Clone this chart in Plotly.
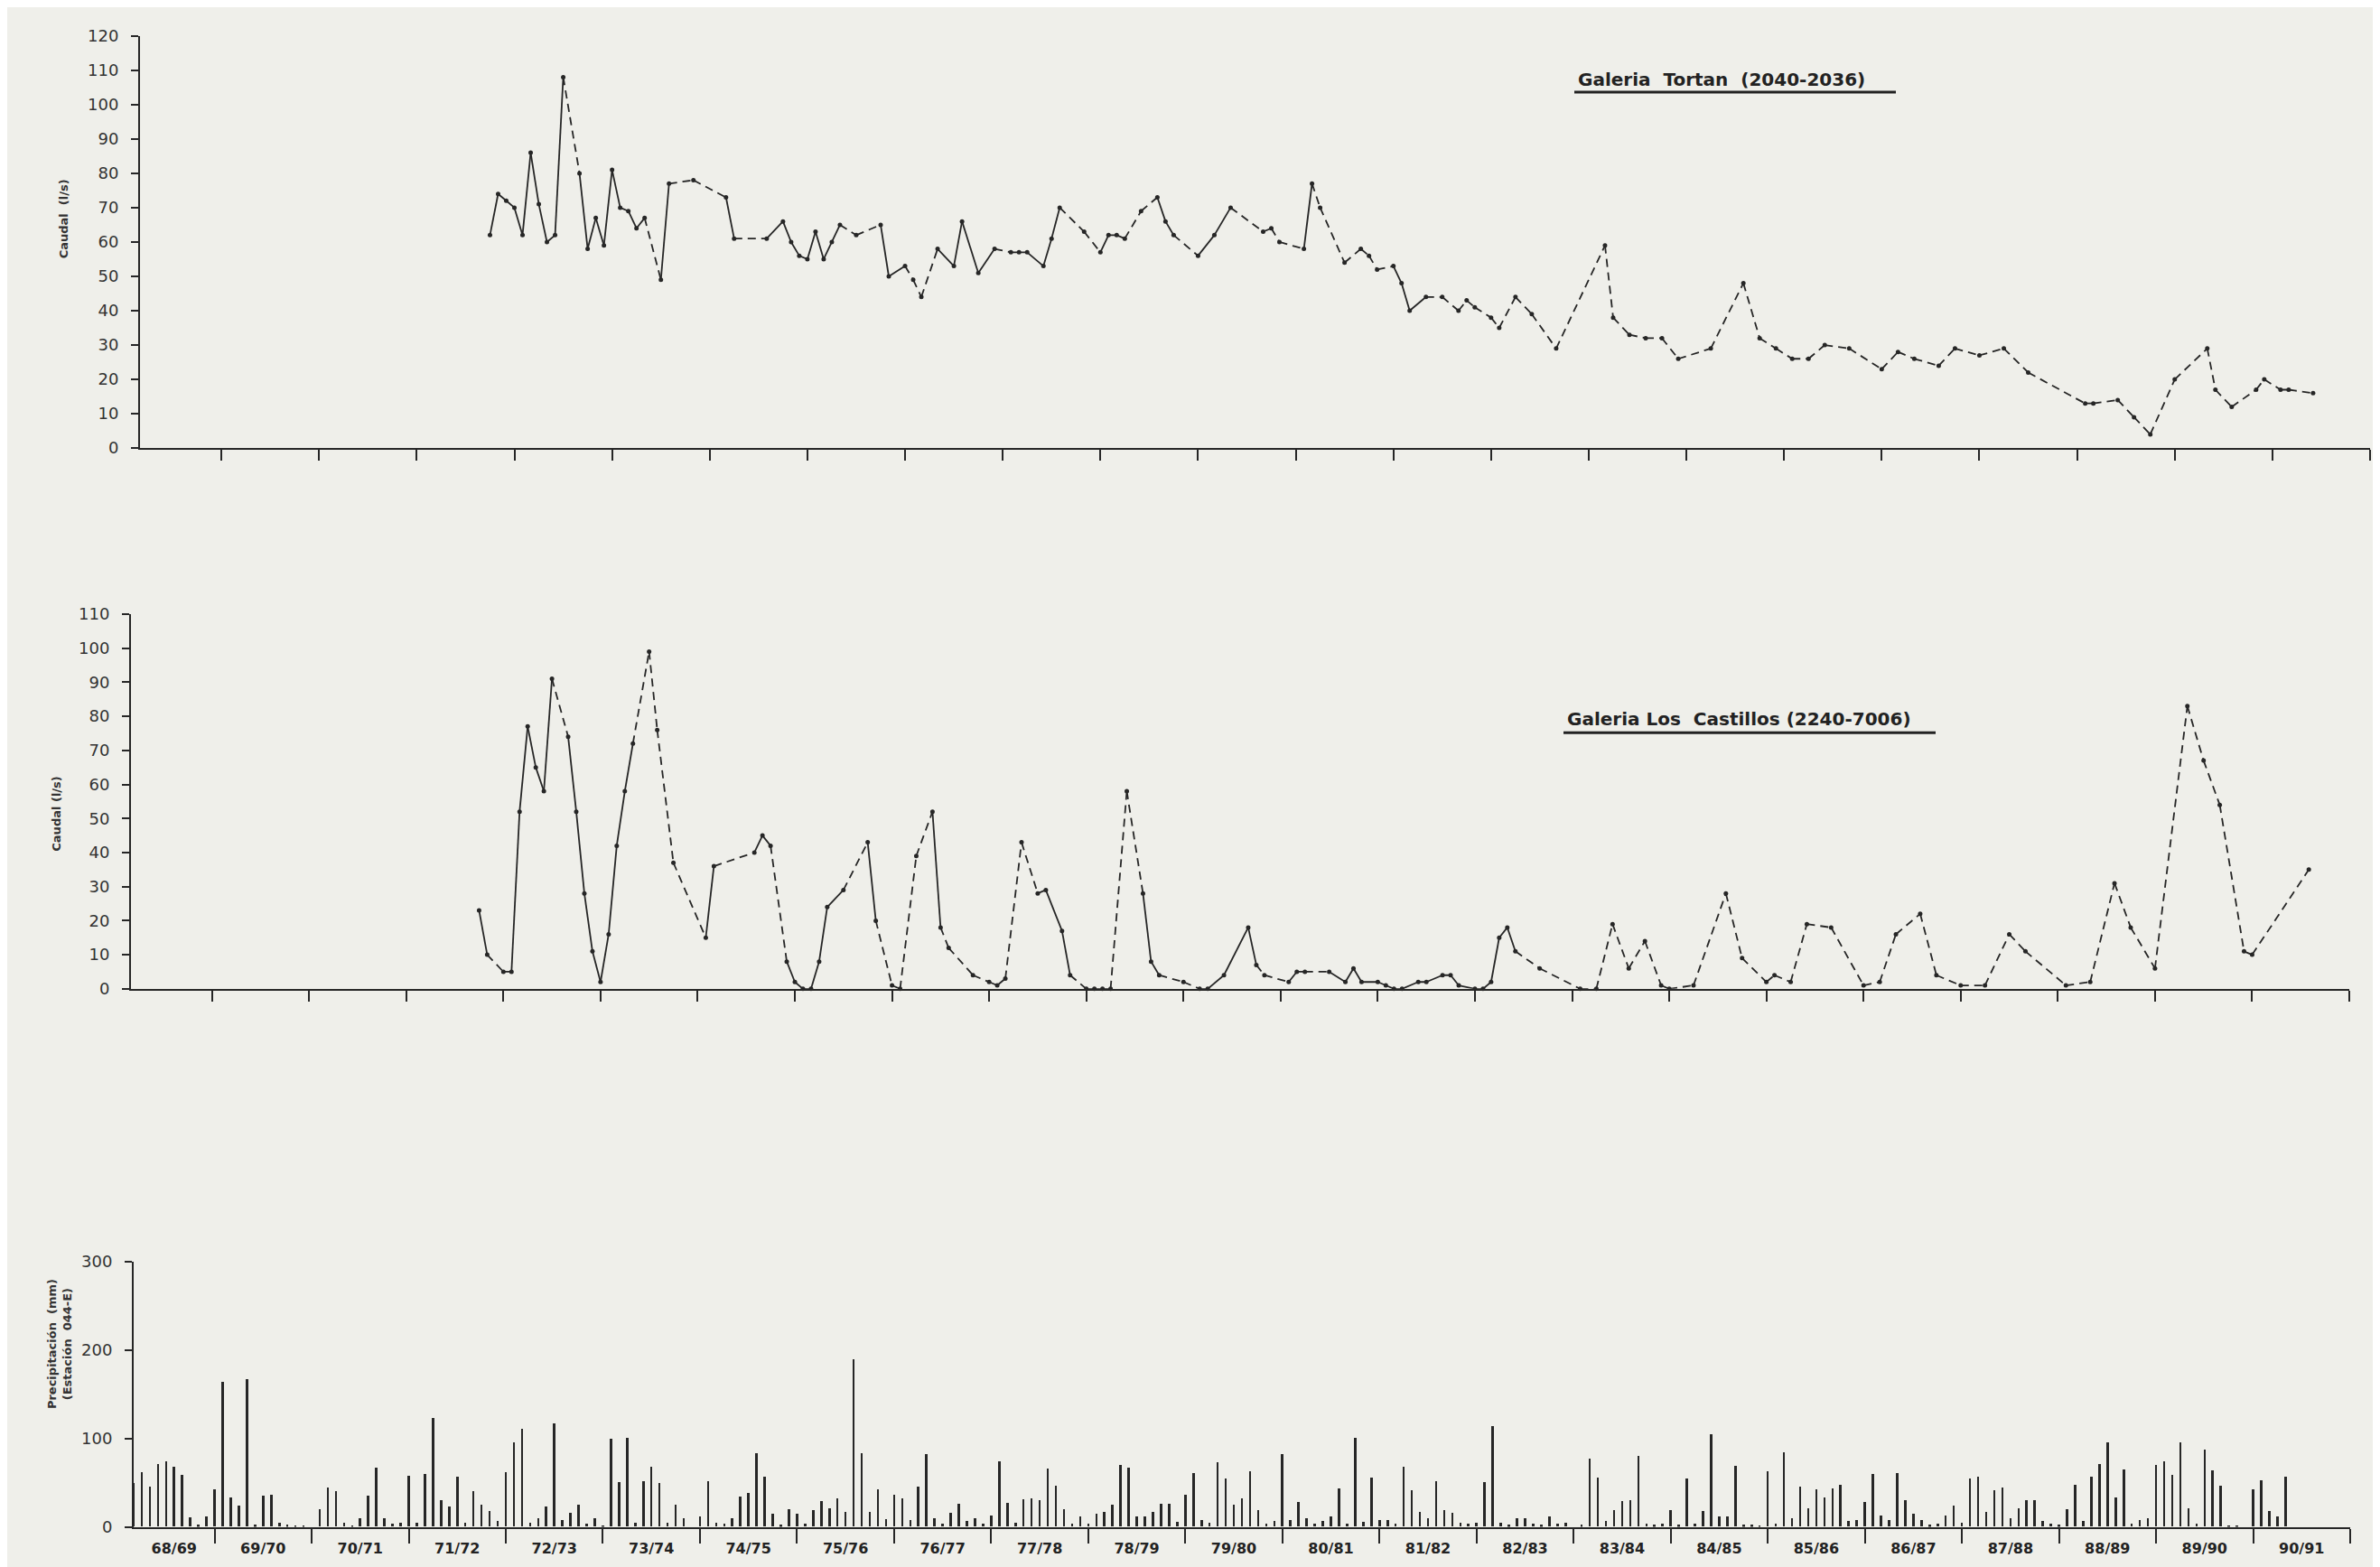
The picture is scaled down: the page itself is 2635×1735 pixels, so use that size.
import plotly.graph_objects as go

# ---------------- DATA ----------------
# months counted from October 1968 (start of hydrological year 68/69)
year_labels = ["68/69", "69/70", "70/71", "71/72", "72/73", "73/74", "74/75", "75/76",
               "76/77", "77/78", "78/79", "79/80", "80/81", "81/82", "82/83", "83/84",
               "84/85", "85/86", "86/87", "87/88", "88/89", "89/90", "90/91"]

# Galeria Tortan (2040-2036) discharge, l/s
tortan_month = [45, 46, 47, 48, 49, 50, 51, 52, 53, 54,
                56, 57, 58, 59, 60, 61, 62, 63, 64, 66,
                67, 70, 74, 75, 79, 81, 82, 83, 84, 85,
                86, 87, 88, 90, 93, 94, 96, 97, 98, 100,
                102, 103, 105, 107, 109, 110, 111, 113, 114, 115,
                118, 120, 121, 122, 123, 125, 127, 128, 129, 132,
                134, 136, 140, 141, 142, 145, 146, 147, 150, 152,
                153, 154, 156, 157, 158, 160, 162, 164, 165, 166,
                168, 169, 171, 173, 176, 182, 183, 185, 187, 189,
                191, 195, 199, 201, 203, 205, 207, 209, 212, 216,
                218, 220, 223, 225, 228, 231, 234, 241, 242, 245,
                247, 249, 252, 256, 257, 259, 262, 263, 265, 266,
                269]
tortan_q = [62, 74, 72, 70, 62, 86, 71, 60, 62, 108,
            80, 58, 67, 59, 81, 70, 69, 64, 67, 49,
            77, 78, 73, 61, 61, 66, 60, 56, 55, 63,
            55, 60, 65, 62, 65, 50, 53, 49, 44, 58,
            53, 66, 51, 58, 57, 57, 57, 53, 61, 70,
            63, 57, 62, 62, 61, 69, 73, 66, 62, 56,
            62, 70, 63, 64, 60, 58, 77, 70, 54, 58,
            56, 52, 53, 48, 40, 44, 44, 40, 43, 41,
            38, 35, 44, 39, 29, 59, 38, 33, 32, 32,
            26, 29, 48, 32, 29, 26, 26, 30, 29, 23,
            28, 26, 24, 29, 27, 29, 22, 13, 13, 14,
            9, 4, 20, 29, 17, 12, 17, 20, 17, 17,
            16]
# line style of each segment: s = solid, d = dashed (interrupted record)
tortan_style = ("sssssssssd" "ssssssssds" "ddsdssssss" "ssddssddds" "sssdddsssd"
                "dsdsddssds" "sdsddsdddd" "ddsssddddd" + "d" * 40)

# Galeria Los Castillos (2240-7006) discharge, l/s
castillos_month = [45, 46, 48, 49, 50, 51, 52, 53, 54, 56,
                   57, 58, 59, 60, 61, 62, 63, 64, 66, 67,
                   69, 73, 74, 79, 80, 81, 83, 84, 85, 86,
                   87, 88, 90, 93, 94, 96, 97, 99, 101, 102,
                   103, 106, 108, 109, 110, 112, 114, 115, 117, 118,
                   120, 121, 122, 123, 125, 127, 128, 129, 132, 134,
                   135, 137, 140, 141, 142, 145, 146, 147, 150, 152,
                   153, 154, 156, 157, 158, 159, 161, 162, 164, 165,
                   166, 168, 169, 170, 171, 172, 173, 176, 181, 183,
                   185, 187, 189, 191, 192, 195, 199, 201, 204, 205,
                   207, 209, 212, 216, 218, 220, 223, 225, 228, 231,
                   234, 236, 241, 244, 247, 249, 252, 256, 258, 260,
                   263, 264, 271]
castillos_q = [23, 10, 5, 5, 52, 77, 65, 58, 91, 74,
               52, 28, 11, 2, 16, 42, 58, 72, 99, 76,
               37, 15, 36, 40, 45, 42, 8, 2, 0, 0,
               8, 24, 29, 43, 20, 1, 0, 39, 52, 18,
               12, 4, 2, 1, 3, 43, 28, 29, 17, 4,
               0, 0, 0, 0, 58, 28, 8, 4, 2, 0,
               0, 4, 18, 7, 4, 2, 5, 5, 5, 2,
               6, 2, 2, 1, 0, 0, 2, 2, 4, 4,
               1, 0, 0, 2, 15, 18, 11, 6, 0, 0,
               19, 6, 14, 1, 0, 1, 28, 9, 2, 4,
               2, 19, 18, 1, 2, 16, 22, 4, 1, 1,
               16, 11, 1, 2, 31, 18, 6, 83, 67, 54,
               11, 10, 35]
castillos_style = ("sdssssssds" "sssssssddd" "dsdssdssss" "ssdsddddsd" "ddssddsssd"
                   "dddddssdds" "sssddsddss" "ssssssssss" "ssssssdddd" + "d" * 32)

# Monthly precipitation (mm), station 044-E, Oct..Sep for each hydrological year
precip_by_year = [
    [None, None, 50, 62, 45, 71, 74, 68, 59, 11, 2, 12],   # 68/69
    [42, 164, 33, 24, 167, 2, 35, 36, 5, 2, 1, 1],         # 69/70
    [0, 20, 44, 40, 5, 1, 10, 35, 67, 10, 3, 5],           # 70/71
    [58, 5, 60, 123, 30, 23, 57, 5, 40, 25, 18, 7],        # 71/72
    [62, 95, 111, 5, 10, 23, 117, 8, 16, 25, 3, 10],       # 72/73
    [1, 100, 51, 101, 4, 52, 68, 50, 5, 25, 10, 0],        # 73/74
    [12, 52, 5, 3, 10, 34, 38, 83, 57, 15, 2, 20],         # 74/75
    [15, 3, 19, 29, 21, 32, 17, 190, 83, 17, 42, 9],       # 75/76
    [36, 32, 8, 45, 82, 10, 3, 16, 26, 7, 10, 3],          # 76/77
    [13, 74, 27, 5, 31, 32, 30, 66, 46, 20, 3, 12],        # 77/78
    [3, 15, 17, 25, 70, 67, 12, 12, 17, 26, 26, 6],        # 78/79
    [36, 61, 8, 5, 73, 55, 25, 32, 63, 19, 3, 7],          # 79/80
    [82, 8, 28, 10, 3, 7, 12, 43, 3, 101, 6, 56],          # 80/81
    [8, 8, 3, 68, 41, 17, 10, 52, 19, 16, 4, 3],           # 81/82
    [5, 51, 114, 5, 2, 10, 10, 3, 2, 12, 3, 5],            # 82/83
    [0, 2, 77, 56, 7, 19, 29, 30, 80, 3, 2, 3],            # 83/84
    [19, 2, 55, 3, 18, 105, 12, 12, 69, 2, 2, 1],          # 84/85
    [63, 3, 84, 10, 45, 21, 42, 33, 43, 47, 7, 8],         # 85/86
    [28, 60, 13, 8, 61, 30, 15, 8, 2, 3, 13, 24],          # 86/87
    [5, 55, 57, 17, 41, 44, 10, 21, 30, 30, 7, 3],         # 87/88
    [2, 20, 47, 7, 57, 71, 96, 33, 65, 3, 8, 10],          # 88/89
    [70, 74, 59, 95, 21, 3, 87, 64, 46, 1, 1, 0],          # 89/90
    [42, 53, 18, 12, 57, None, None, None, None, None, None, None],  # 90/91
]

# ---------------- STYLE ----------------
W, H = 2635, 1735
BG = "#efefea"
INK = "#262626"
FONT = "DejaVu Sans"


def px_x(p):
    return p / W


def px_y(p):
    return 1 - p / H


def split_segments(months, vals, styles):
    sx, sy, dx, dy = [], [], [], []
    for k in range(min(len(months), len(vals)) - 1):
        st = styles[k] if k < len(styles) else "d"
        xs = [months[k] / 12.0, months[k + 1] / 12.0, None]
        ys = [vals[k], vals[k + 1], None]
        if st == "s":
            sx += xs
            sy += ys
        else:
            dx += xs
            dy += ys
    return sx, sy, dx, dy


fig = go.Figure()


def add_series(months, vals, styles, xa, ya):
    sx, sy, dx, dy = split_segments(months, vals, styles)
    fig.add_trace(go.Scatter(x=sx, y=sy, mode="lines", xaxis=xa, yaxis=ya,
                             line=dict(color=INK, width=1.8), cliponaxis=False,
                             showlegend=False, hoverinfo="skip"))
    fig.add_trace(go.Scatter(x=dx, y=dy, mode="lines", xaxis=xa, yaxis=ya,
                             line=dict(color=INK, width=1.8, dash="9px,6px"),
                             cliponaxis=False, showlegend=False, hoverinfo="skip"))
    fig.add_trace(go.Scatter(x=[m / 12.0 for m in months], y=vals, mode="markers",
                             xaxis=xa, yaxis=ya, cliponaxis=False,
                             marker=dict(color=INK, size=5), showlegend=False))


add_series(tortan_month, tortan_q, tortan_style, "x", "y")
add_series(castillos_month, castillos_q, castillos_style, "x2", "y2")

px_, py_ = [], []
for yi, row in enumerate(precip_by_year):
    for mi, v in enumerate(row):
        if v is not None:
            px_.append((yi * 12 + mi) / 12.0)
            py_.append(v)
fig.add_trace(go.Bar(x=px_, y=py_, width=0.024, xaxis="x3", yaxis="y3",
                     marker=dict(color=INK, line=dict(width=0)), showlegend=False))

n_years = len(year_labels)
x_range = [2 / 12.0, n_years]
year_ticks = list(range(1, n_years + 1))

common_x = dict(range=x_range, showgrid=False, zeroline=False, showline=True,
                linecolor=INK, linewidth=2, ticks="outside", ticklen=12, tickwidth=2,
                tickcolor=INK, tickmode="array", tickvals=year_ticks,
                showticklabels=False, fixedrange=True)
common_y = dict(showgrid=False, zeroline=False, showline=True, linecolor=INK, linewidth=2,
                ticks="outside", ticklen=8, tickwidth=2, tickcolor=INK,
                tickfont=dict(family=FONT, size=18, color="#333"),
                ticklabelstandoff=10, fixedrange=True)

label_pos = [((2 / 12.0) + 1) / 2] + [i + 0.5 for i in range(1, n_years)]

fig.update_layout(
    width=W, height=H,
    margin=dict(l=0, r=0, t=0, b=0),
    paper_bgcolor=BG, plot_bgcolor=BG,
    bargap=0,
    xaxis=dict(common_x, domain=[px_x(147), px_x(2616)], anchor="y"),
    yaxis=dict(common_y, domain=[px_y(483), px_y(21)], range=[0, 120],
               tickvals=list(range(0, 121, 10)), anchor="x"),
    xaxis2=dict(common_x, domain=[px_x(137), px_x(2593)], anchor="y2"),
    yaxis2=dict(common_y, domain=[px_y(1089), px_y(669)], range=[0, 110],
                tickvals=list(range(0, 111, 10)), anchor="x2"),
    xaxis3=dict(range=x_range, domain=[px_x(140), px_x(2594)], anchor="y3",
                showgrid=False, zeroline=False, showline=True, linecolor=INK, linewidth=2,
                tickmode="array", tickvals=label_pos, ticktext=year_labels, ticks="",
                ticklabelstandoff=8,
                tickfont=dict(family=FONT, size=16, color="#222", weight="bold"),
                minor=dict(tickmode="array", tickvals=year_ticks, ticks="outside",
                           ticklen=16, tickwidth=2, tickcolor=INK, showgrid=False),
                fixedrange=True),
    yaxis3=dict(common_y, domain=[px_y(1692), px_y(1395)], range=[0, 300],
                tickvals=[0, 100, 200, 300], anchor="x3"),
)

title_font = dict(family=FONT, size=20, color="#222", weight="bold")
annotations = [
    dict(text="Galeria  Tortan  (2040-2036)", x=px_x(1737), y=px_y(70),
         xanchor="left", yanchor="middle", font=title_font),
    dict(text="Galeria Los  Castillos (2240-7006)", x=px_x(1725), y=px_y(787),
         xanchor="left", yanchor="middle", font=title_font),
    dict(text="Caudal  (l/s)", x=px_x(53), y=px_y(180), textangle=-90,
         font=dict(family=FONT, size=13, color="#333", weight="bold")),
    dict(text="Caudal (l/s)", x=px_x(45), y=px_y(893), textangle=-90,
         font=dict(family=FONT, size=13, color="#333", weight="bold")),
    dict(text="Precipitación  (mm)<br>(Estación  044-E)", x=px_x(40), y=px_y(1562),
         textangle=-90,
         font=dict(family=FONT, size=13, color="#333", weight="bold")),
]
for a in annotations:
    a.update(xref="paper", yref="paper", showarrow=False)
fig.update_layout(annotations=annotations)

fig.update_layout(shapes=[
    dict(type="line", xref="paper", yref="paper", x0=px_x(1735), x1=px_x(2091),
         y0=px_y(84), y1=px_y(84), line=dict(color="#222", width=3)),
    dict(type="line", xref="paper", yref="paper", x0=px_x(1723), x1=px_x(2135),
         y0=px_y(802), y1=px_y(802), line=dict(color="#222", width=3)),
])

fig.write_html("out.html")
